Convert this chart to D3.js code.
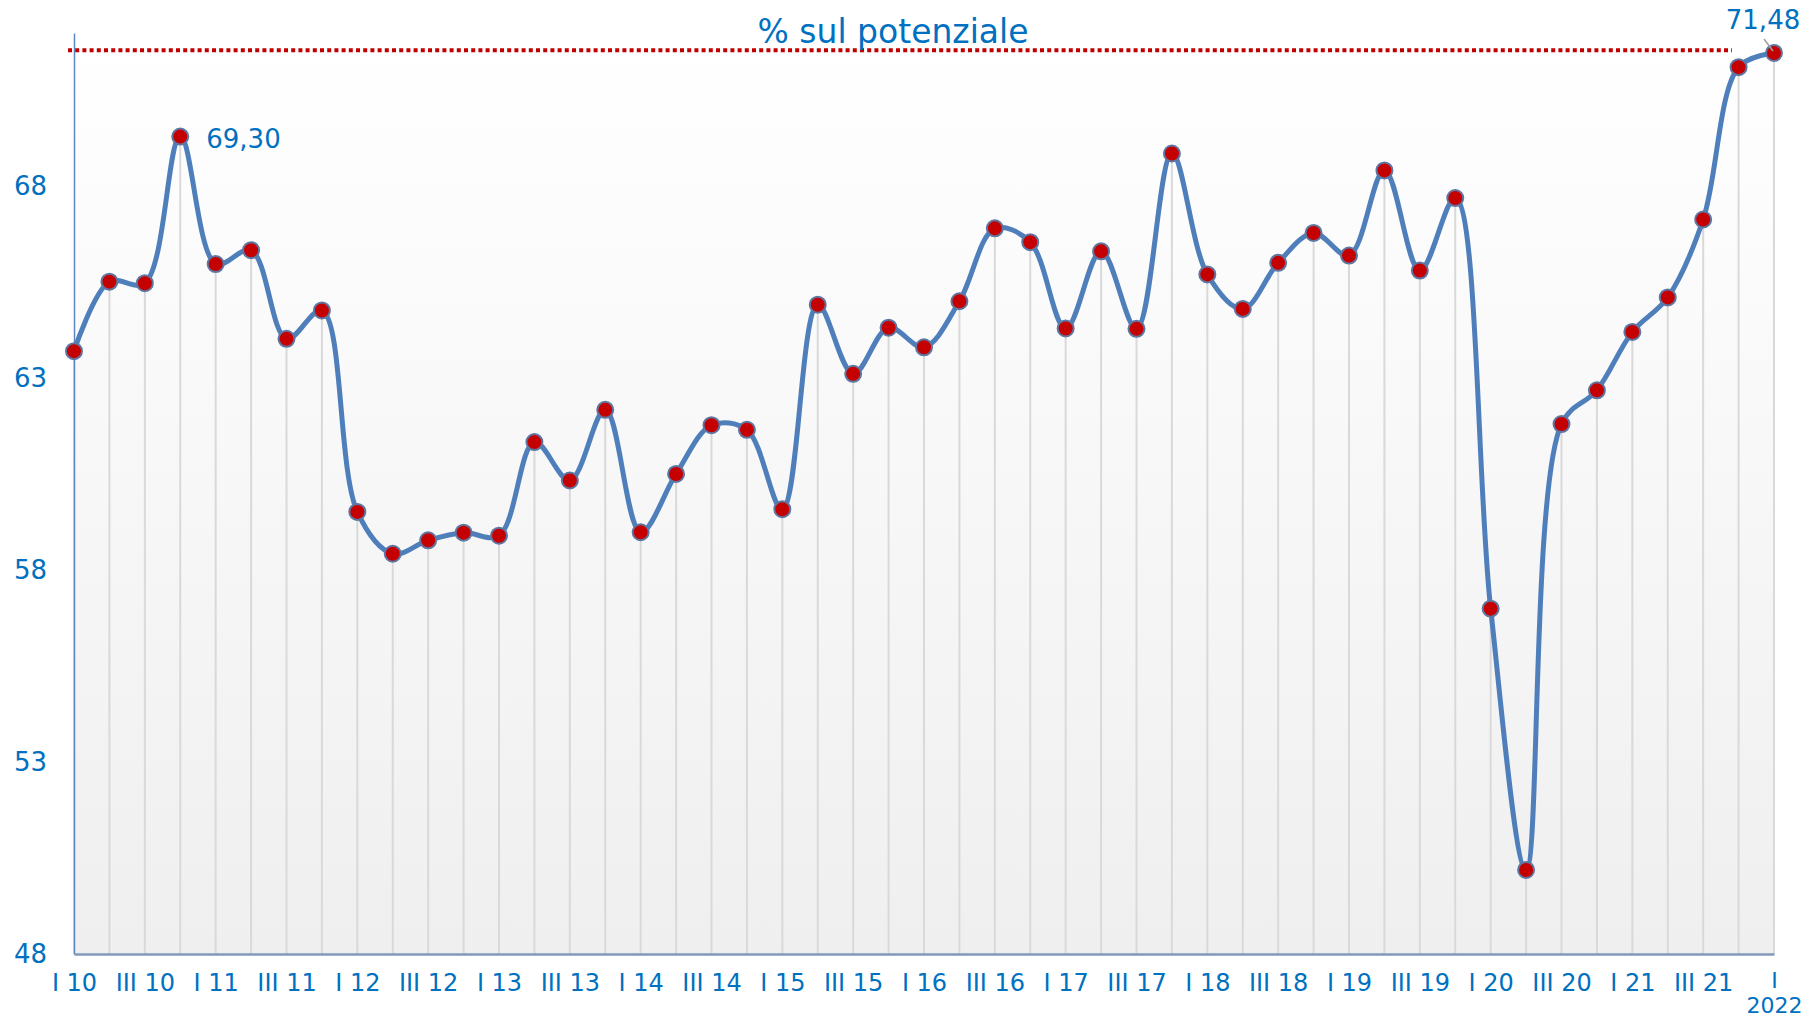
<html>
<head>
<style>
  body { margin: 0; background: #fff; }
  text { font-family: "DejaVu Sans", Verdana, sans-serif; fill: #0070c0; }
</style>
</head>
<body>
<svg width="1816" height="1021"></svg>
<script src="https://d3js.org/d3.v7.min.js"></script>
<script>
// quarters I 2010 .. I 2022
var years = ["10","11","12","13","14","15","16","17","18","19","20","21","22"]
var romans = ["I","II","III","IV"]
var categories = []
years.forEach(function(yr){
  romans.forEach(function(q){
    if (yr == "22" && q != "I") return
    categories.push(q + " " + yr)
  })
})

var values = [63.71, 65.52, 65.48, 69.30, 65.98, 66.34, 64.03, 64.77,
              59.52, 58.43, 58.78, 58.98, 58.90, 61.34, 60.34, 62.18,
              58.99, 60.51, 61.78, 61.66, 59.59, 64.92, 63.12, 64.32,
              63.81, 65.01, 66.91, 66.55, 64.30, 66.31, 64.29, 68.86,
              65.71, 64.81, 66.01, 66.79, 66.20, 68.42, 65.81, 67.70,
              57.00, 50.19, 61.81, 62.69, 64.21, 65.11, 67.14, 71.11,
              71.48]

var potential = 71.55
var yTicks = [48, 53, 58, 63, 68]
var xTickCats = categories.filter(function(c){ return c.indexOf("II ") != 0 && c.indexOf("IV ") != 0 })
var xTickLabels = ["I 10","III 10","I 11","III 11","I 12","III 12","I 13","III 13",
                   "I 14","III 14","I 15","III 15","I 16","III 16","I 17","III 17",
                   "I 18","III 18","I 19","III 19","I 20","III 20","I 21","III 21","I|2022"]
var labelled = [{i: 3, text: "69,30"}, {i: 48, text: "71,48"}]

var svg = d3.select("svg")

var x = d3.scalePoint().domain(categories).range([74, 1774])
var y = d3.scaleLinear().domain([48, 72]).range([954, 33])

// background gradient
var defs = svg.append("defs")
var grad = defs.append("linearGradient").attr("id","bg").attr("x1",0).attr("y1",0).attr("x2",0).attr("y2",1)
grad.append("stop").attr("offset","0").attr("stop-color","#ffffff")
grad.append("stop").attr("offset","0.2").attr("stop-color","#fcfcfc")
grad.append("stop").attr("offset","1").attr("stop-color","#efefef")

svg.append("rect")
  .attr("x", x.range()[0]).attr("y", y(72))
  .attr("width", x.range()[1] - x.range()[0]).attr("height", y(48) - y(72))
  .style("fill","url(#bg)")

// drop lines
svg.append("g").selectAll("line")
  .data(values).enter().append("line")
  .attr("x1", function(d,i){ return x(categories[i]) })
  .attr("x2", function(d,i){ return x(categories[i]) })
  .attr("y1", function(d){ return y(d) })
  .attr("y2", y(48))
  .style("stroke","#d9d9d9").style("stroke-width",2)

// y axis
var yAxis = svg.append("g").attr("transform","translate(" + x.range()[0] + ",0)")
  .call(d3.axisLeft(y).tickValues(yTicks).tickSize(0).tickPadding(27))
yAxis.select(".domain").style("stroke","#5b87c5").style("stroke-width",1.5)
yAxis.selectAll("text").style("font-size","26px").style("fill","#0070c0")
  .style("font-family","'DejaVu Sans', sans-serif")

// x axis
var xAxis = svg.append("g").attr("transform","translate(0," + y(48) + ")")
  .call(d3.axisBottom(x).tickValues(xTickCats).tickSize(0).tickPadding(20)
    .tickFormat(function(c){ return xTickLabels[xTickCats.indexOf(c)] }))
xAxis.select(".domain").style("stroke","#8199bb").style("stroke-width",2.5)
xAxis.selectAll("text").style("font-size","24px").style("fill","#0070c0")
  .style("font-family","'DejaVu Sans', sans-serif")
  .each(function(t){
    var s = d3.select(this), parts = s.text().split("|")
    if (parts.length > 1) {
      // last label on two lines: "I" over "2022"
      s.text(null).attr("y", 18).style("font-size","22px")
      s.append("tspan").attr("x",0).text(parts[0])
      s.append("tspan").attr("x",0).attr("dy","1.17em").text(parts[1])
    }
  })

// potential reference line
svg.append("line")
  .attr("x1", 68).attr("x2", 1732)
  .attr("y1", y(potential)).attr("y2", y(potential))
  .style("stroke","#c00000").style("stroke-width",4).style("stroke-dasharray","4,3.2")

svg.append("text")
  .attr("x", 893).attr("y", 43)
  .attr("text-anchor","middle")
  .style("font-size","33px")
  .text("% sul potenziale")

// series line
var line = d3.line()
  .x(function(d,i){ return x(categories[i]) })
  .y(function(d){ return y(d) })
  .curve(d3.curveCatmullRom.alpha(0.5))

svg.append("path").datum(values)
  .attr("d", line)
  .style("fill","none").style("stroke","#4f7fbb").style("stroke-width",5)
  .style("stroke-linejoin","round")

// markers
svg.append("g").selectAll("circle")
  .data(values).enter().append("circle")
  .attr("cx", function(d,i){ return x(categories[i]) })
  .attr("cy", function(d){ return y(d) })
  .attr("r", 8)
  .style("fill","#c40000").style("stroke","#5f76a3").style("stroke-width",2)

// value labels
svg.append("text")
  .attr("x", x(categories[3]) + 26).attr("y", y(values[3]) + 11)
  .style("font-size","26px").text(labelled[0].text)

svg.append("line")
  .attr("x1", x(categories[48]) - 10).attr("y1", y(values[48]) - 14)
  .attr("x2", x(categories[48]) - 1).attr("y2", y(values[48]) - 2)
  .style("stroke","#a0a0a0").style("stroke-width",1.5)
svg.append("text")
  .attr("x", 1763).attr("y", 29)
  .attr("text-anchor","middle")
  .style("font-size","26px").text(labelled[1].text)
</script>
</body>
</html>
